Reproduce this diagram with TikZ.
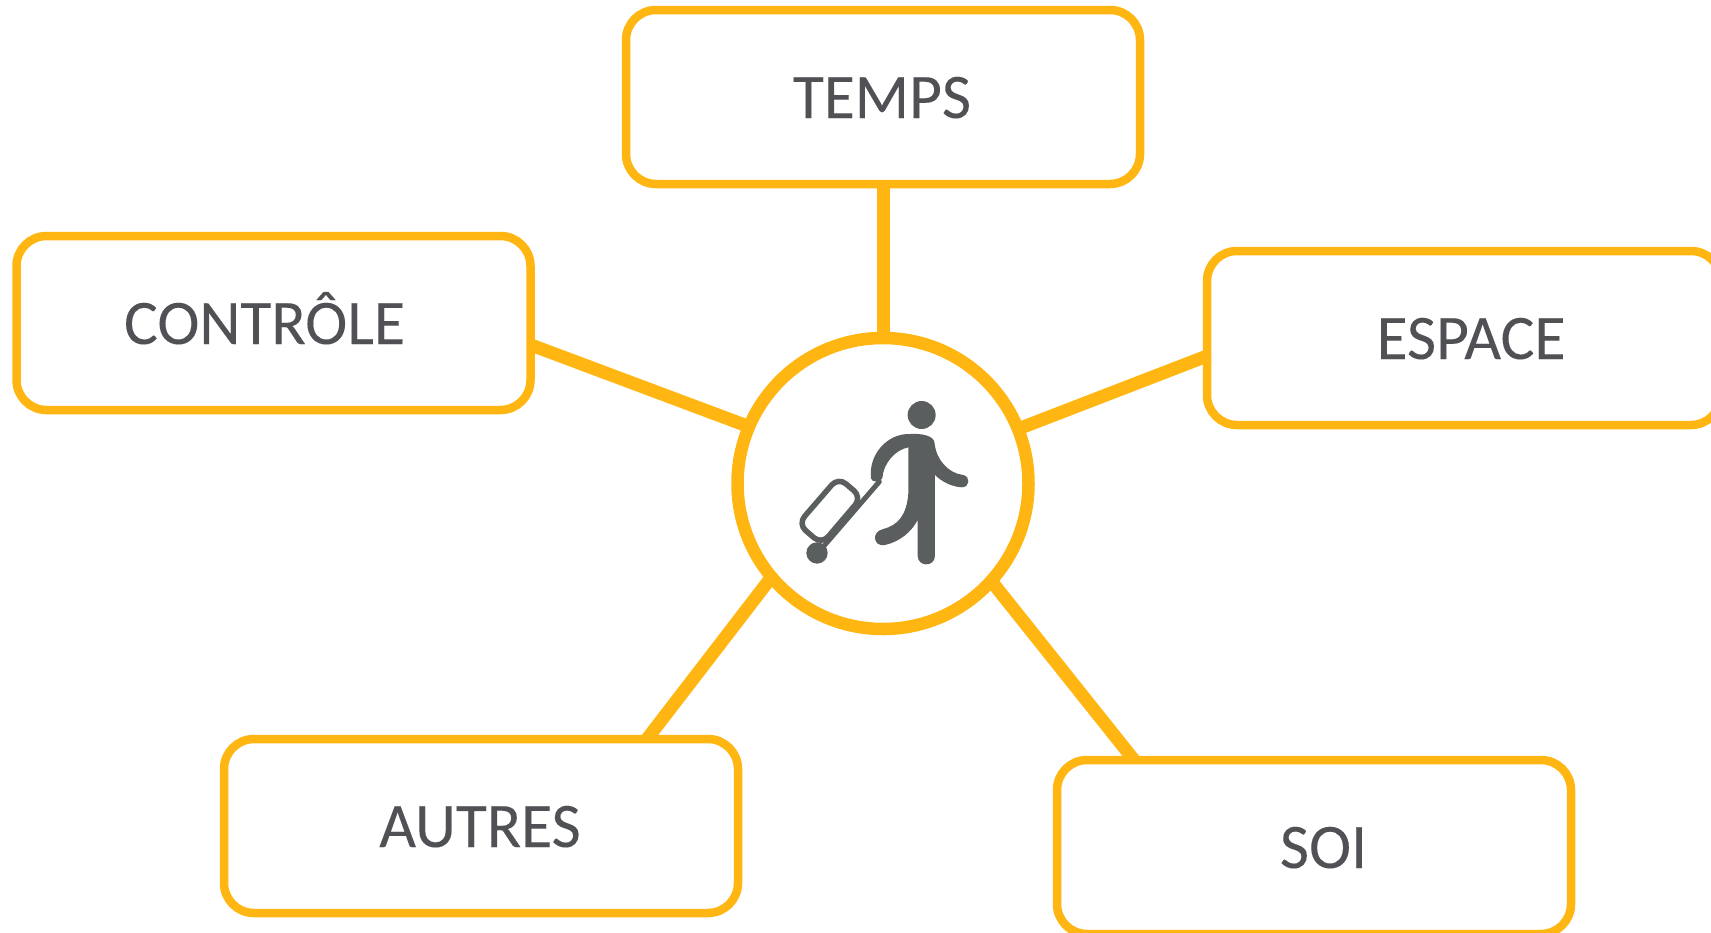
\documentclass[tikz,border=0pt]{standalone}
\usepackage{fontspec}
\setmainfont[FakeBold=0.08]{Carlito}
\definecolor{gold}{HTML}{FFB612}
\definecolor{ink}{HTML}{505155}
\definecolor{iconc}{HTML}{5B5E5F}
\newcommand{\labeltext}[3]{\kern#1pt\smash{\raisebox{#2pt}{#3}}}
\tikzset{
  topic/.style={draw=gold,line width=8.5pt,rounded corners=30pt,fill=white,minimum width=514pt,minimum height=174pt,inner sep=0pt,outer sep=0pt,text=ink,font=\fontsize{63.5}{70}\selectfont},
  hubnode/.style={circle,draw=gold,line width=12.5pt,fill=white,minimum size=291pt,inner sep=0pt,outer sep=0pt},
  link/.style={draw=gold,line width=13pt}
}
\begin{document}
\begin{tikzpicture}[x=1pt,y=-1pt]
\useasboundingbox (0,0) rectangle (1711,932);
\clip (0,0) rectangle (1711,932);
\node[topic] (temps) at (883,97) {\labeltext{-2}{-21}{TEMPS}};
\node[topic] (controle) at (273.5,323) {\labeltext{-18}{-21}{CONTRÔLE}};
\node[topic] (espace) at (1464,338) {\labeltext{14}{-21}{ESPACE}};
\node[topic] (autres) at (481,826) {\labeltext{-2}{-21}{AUTRES}};
\node[topic] (soi) at (1314,847) {\labeltext{19}{-21}{SOI}};
\node[hubnode] (hub) at (883,483.5) {};
\coordinate (c1) at (531,345);
\coordinate (c2) at (1207,356);
\coordinate (c3) at (647,739);
\coordinate (c4) at (1134,760);
\draw[link] (temps.south) -- (hub.north);
\draw[link] (c1) -- (hub.157.6);
\draw[link] (c2) -- (hub.22.2);
\draw[link] (c3) -- (hub.220.8);
\draw[link] (c4) -- (hub.318.6);
% traveller icon
\begin{scope}[shift={(770,370)},x=0.3333pt,y=-0.3333pt]
\fill[iconc] (455,135) circle[radius=42];
\fill[iconc] (141,549) circle[radius=32];
\draw[iconc,line width=5.5pt,rounded corners=10pt] (205,322) -- (84,462) -- (155,523) -- (275,382) -- cycle;
\draw[iconc,line width=5pt,line cap=round] (328,335) -- (160,530);
\fill[iconc] (303,325) .. controls (295,255) and (350,190) .. (420,192)
  .. controls (450,190) and (495,195) .. (494,222)
  .. controls (500,270) and (535,310) .. (580,315)
  .. controls (602,320) and (600,352) .. (575,352)
  .. controls (545,350) and (515,335) .. (495,315)
  -- (495,557) .. controls (495,592) and (443,592) .. (443,557)
  -- (443,450) .. controls (425,485) and (390,515) .. (345,525)
  .. controls (310,532) and (302,485) .. (340,477)
  .. controls (385,465) and (410,435) .. (415,370)
  -- (415,232) .. controls (375,240) and (340,280) .. (337,325)
  .. controls (332,338) and (305,338) .. (303,325) -- cycle;
\end{scope}
\end{tikzpicture}
\end{document}
